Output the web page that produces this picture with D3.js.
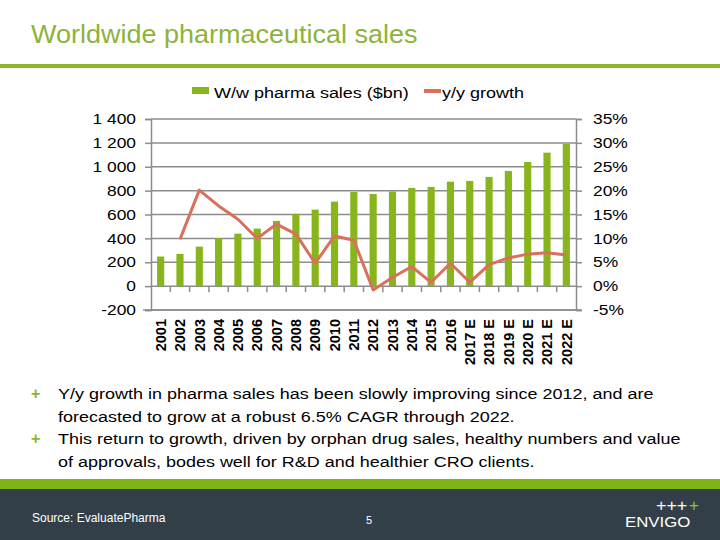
<!DOCTYPE html>
<html>
<head>
<meta charset="utf-8">
<script src="https://cdn.jsdelivr.net/npm/d3@7"></script>
<style>
  body { margin: 0; background: #fff; }
  svg { display: block; font-family: "Liberation Sans", Arial, sans-serif; }
</style>
</head>
<body>
<div id="chart"></div>
<script>
// chart data
var years = ["2001", "2002", "2003", "2004", "2005", "2006", "2007", "2008", "2009", "2010", "2011",
  "2012", "2013", "2014", "2015", "2016", "2017 E", "2018 E", "2019 E", "2020 E", "2021 E", "2022 E"];
var sales = [248, 270, 331, 402, 440, 482, 546, 605, 641, 708, 789,
  772, 792, 823, 831, 875, 881, 915, 965, 1040, 1118, 1193];
var growth = [null, 9.8, 20.1, 16.8, 14.0, 10.0, 13.0, 10.9, 4.8, 10.5, 9.6,
  -0.8, 1.8, 4.1, 0.8, 4.8, 0.8, 4.5, 5.9, 6.7, 7.0, 6.5];
var salesTicks = [-200, 0, 200, 400, 600, 800, 1000, 1200, 1400];
var growthTicks = [-5, 0, 5, 10, 15, 20, 25, 30, 35];
var bullets = [
  ["Y/y growth in pharma sales has been slowly improving since 2012, and are",
   "forecasted to grow at a robust 6.5% CAGR through 2022."],
  ["This return to growth, driven by orphan drug sales, healthy numbers and value",
   "of approvals, bodes well for R&D and healthier CRO clients."]
];

var svgWidth = 720, svgHeight = 540;
var plot = { left: 151, right: 576, top: 119, bottom: 310 };
var sx = 1.2; // the slide text is stretched sideways

var svg = d3.select("#chart").append("svg")
  .attr("width", svgWidth)
  .attr("height", svgHeight);

// stretched text helper
function label(x, y, size, txt, fill, stretch) {
  return svg.append("text")
    .attr("transform", `translate(${x},${y}) scale(${stretch || sx},1)`)
    .attr("font-size", size)
    .attr("fill", fill || "#000")
    .text(txt);
}

// title + rule
label(31, 43, 25, "Worldwide pharmaceutical sales", "#8db33a", 1.08);
svg.append("rect")
  .attr("x", 0).attr("y", 64).attr("width", svgWidth).attr("height", 4)
  .attr("fill", "#8cb42c");

// scales
var x = d3.scaleBand()
  .domain(years)
  .range([plot.left, plot.right])
  .paddingInner(0.63)
  .paddingOuter(0.315);

var y = d3.scaleLinear()
  .domain([-200, 1400])
  .range([plot.bottom, plot.top]);

var y2 = d3.scaleLinear()
  .domain([-5, 35])
  .range([plot.bottom, plot.top]);

var gridColor = "#8c8c8c";

// gridlines
svg.append("g").selectAll("line")
  .data(salesTicks)
  .enter().append("line")
  .attr("x1", plot.left).attr("x2", plot.right)
  .attr("y1", d => y(d)).attr("y2", d => y(d))
  .attr("stroke", gridColor)
  .attr("stroke-width", 1.5);

// left axis
var fmt = d => String(d).replace(/(\d)(\d{3})$/, "$1 $2");
var leftAxis = svg.append("g")
  .attr("transform", `translate(${plot.left},0)`)
  .call(d3.axisLeft(y).tickValues(salesTicks).tickSize(6).tickPadding(9).tickFormat(fmt));

// right axis
var rightAxis = svg.append("g")
  .attr("transform", `translate(${plot.right},0)`)
  .call(d3.axisRight(y2).tickValues(growthTicks).tickSize(6).tickPadding(11).tickFormat(d => d + "%"));

[leftAxis, rightAxis].forEach(function(g) {
  g.select(".domain").attr("stroke", gridColor).attr("stroke-width", 1.5);
  g.selectAll(".tick line").attr("stroke", gridColor).attr("stroke-width", 1.5);
  g.selectAll(".tick text").attr("font-size", 14.5).attr("fill", "#000")
    .attr("font-family", "Liberation Sans, Arial, sans-serif")
    .attr("x", function() { return +d3.select(this).attr("x") / sx; })
    .attr("transform", `scale(${sx},1)`);
});

// bottom line extended
svg.append("line")
  .attr("x1", plot.left - 8).attr("x2", plot.right + 6)
  .attr("y1", plot.bottom).attr("y2", plot.bottom)
  .attr("stroke", gridColor).attr("stroke-width", 1.5);

// category ticks along zero line
var boundaries = years.map(d => x(d) - x.step() * x.paddingInner() / 2).slice(1);
svg.append("g").selectAll("line")
  .data(boundaries)
  .enter().append("line")
  .attr("x1", d => d).attr("x2", d => d)
  .attr("y1", y(0)).attr("y2", y(0) + 6)
  .attr("stroke", gridColor).attr("stroke-width", 1.5);

// bars
svg.append("g").selectAll("rect")
  .data(sales)
  .enter().append("rect")
  .attr("x", (d, i) => x(years[i]))
  .attr("width", x.bandwidth())
  .attr("y", d => y(d))
  .attr("height", d => y(0) - y(d))
  .attr("fill", "#88b51c");

// growth line
var line = d3.line()
  .defined(d => d != null)
  .x((d, i) => x(years[i]) + x.bandwidth() / 2)
  .y(d => y2(d));

svg.append("path")
  .datum(growth)
  .attr("d", line)
  .attr("fill", "none")
  .attr("stroke", "#d9705c")
  .attr("stroke-width", 3)
  .attr("stroke-linejoin", "round");

// year labels
svg.append("g").selectAll("text")
  .data(years)
  .enter().append("text")
  .attr("transform", d => `translate(${x(d) + x.bandwidth() / 2},${plot.bottom + 9}) rotate(-90)`)
  .attr("dy", "0.36em")
  .attr("text-anchor", "end")
  .attr("font-size", 14.5)
  .attr("font-weight", "bold")
  .text(d => d);

// legend
svg.append("rect")
  .attr("x", 192).attr("y", 87).attr("width", 17).attr("height", 7)
  .attr("fill", "#88b51c");
label(214, 97.5, 15, "W/w pharma sales ($bn)");
svg.append("rect")
  .attr("x", 424).attr("y", 89).attr("width", 17).attr("height", 4)
  .attr("fill", "#d9705c");
label(442, 97.5, 15, "y/y growth");

// bullets
var by = [399, 444];
bullets.forEach(function(b, i) {
  svg.append("text")
    .attr("x", 31).attr("y", by[i])
    .attr("font-size", 16).attr("font-weight", "bold")
    .attr("fill", "#8cb42c")
    .text("+");
  b.forEach(function(t, j) {
    label(58, by[i] + j * 23, 14.5, t, "#000", 1.24);
  });
});

// footer
svg.append("rect")
  .attr("x", 0).attr("y", 479).attr("width", svgWidth).attr("height", 10)
  .attr("fill", "#80b414");
svg.append("rect")
  .attr("x", 0).attr("y", 489).attr("width", svgWidth).attr("height", 51)
  .attr("fill", "#333f48");
label(32, 522, 12, "Source: EvaluatePharma", "#fff", 1.0);
label(366, 524, 11, "5", "#fff", 1.0);
label(656, 511, 17, "+++", "#fff", 1.05);
label(689, 511, 17, "+", "#8cc63f", 1.0);
label(625, 527, 15, "ENVIGO", "#fff", 1.12);
</script>
</body>
</html>
